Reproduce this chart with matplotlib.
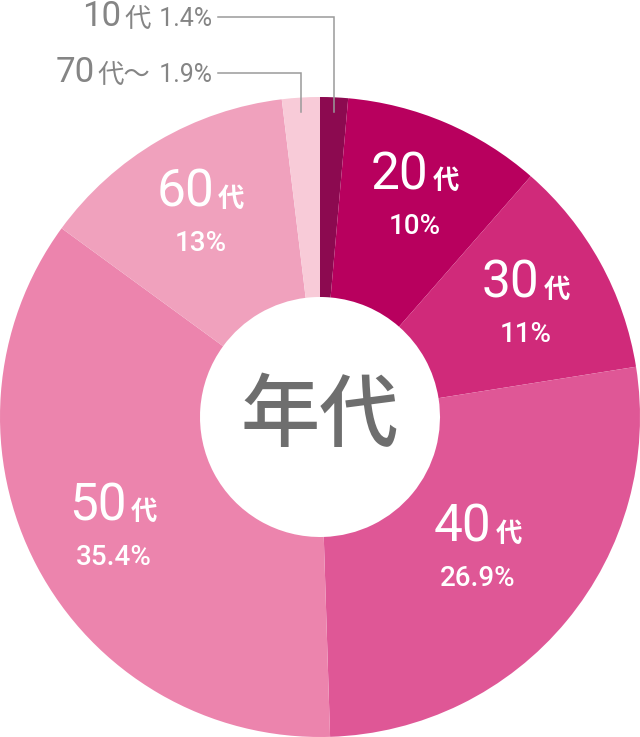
import numpy as np
import matplotlib
matplotlib.use("Agg")
import matplotlib.pyplot as plt
from matplotlib.offsetbox import TextArea, HPacker, VPacker, AnnotationBbox

# データ (時計回り, 上から)
ages = ["10", "20", "30", "40", "50", "60", "70"]
suffix = ["代", "代", "代", "代", "代", "代", "代～"]
shares = [1.4, 10, 11, 26.9, 35.4, 13, 1.9]
share_labels = ["1.4%", "10%", "11%", "26.9%", "35.4%", "13%", "1.9%"]
colors = ["#8c0a50", "#b8005e", "#d02a7a", "#df5796", "#ec84ad", "#f0a1bd", "#f8cbd8"]

FONT = ["Roboto", "Noto Sans CJK JP", "DejaVu Sans"]
JP = ["Noto Sans CJK JP", "DejaVu Sans"]

fig = plt.figure(figsize=(6.4, 7.37), dpi=100)
ax = fig.add_axes([0, 0, 1, 640 / 737])

wedges, _ = ax.pie(shares, colors=colors, startangle=90, counterclock=False,
                   radius=1, wedgeprops=dict(width=0.625, linewidth=0))
ax.set_xlim(-1, 1)
ax.set_ylim(-1, 1)
ax.set_aspect("equal")
ax.axis("off")

# 中央の文字
ax.text(0, 0, "年代", ha="center", va="center", fontsize=57, color="#6e6e6e",
        family=JP, fontweight="medium")

# 円の中のラベル (20代〜60代)
inner_r = {1: 0.755, 2: 0.735, 3: 0.64, 4: 0.73, 5: 0.74}
for i, r in inner_r.items():
    w = wedges[i]
    mid = np.deg2rad((w.theta1 + w.theta2) / 2)
    x, y = r * np.cos(mid), r * np.sin(mid)
    top = HPacker(children=[
        TextArea(ages[i], textprops=dict(color="white", fontsize=37, family=FONT)),
        TextArea(suffix[i], textprops=dict(color="white", fontsize=19, family=JP, fontweight="bold")),
    ], align="baseline", pad=0, sep=3)
    pct = TextArea(share_labels[i], textprops=dict(color="white", fontsize=20, family=FONT,
                                                   fontweight="medium"))
    box = VPacker(children=[top, pct], align="center", pad=0, sep=9)
    ax.add_artist(AnnotationBbox(box, (x, y), frameon=False, box_alignment=(0.5, 0.5),
                                 annotation_clip=False))

# 外側のラベル (10代, 70代～)
outer = {0: 1.25, 6: 1.075}
for i, ly in outer.items():
    w = wedges[i]
    mid = np.deg2rad((w.theta1 + w.theta2) / 2)
    mx = np.cos(mid)
    lab = HPacker(children=[
        TextArea(ages[i], textprops=dict(color="#858585", fontsize=25, family=FONT)),
        TextArea(suffix[i], textprops=dict(color="#858585", fontsize=19, family=JP)),
        TextArea(" " + share_labels[i], textprops=dict(color="#858585", fontsize=18, family=FONT)),
    ], align="baseline", pad=0, sep=2)
    ax.add_artist(AnnotationBbox(lab, (-0.336, ly), frameon=False, box_alignment=(1, 0.5),
                                 annotation_clip=False))
    ax.plot([-0.318, mx, mx], [ly, ly, 0.953], color="#9a9a9a", linewidth=1.1,
            clip_on=False, solid_joinstyle="miter")

fig.savefig("out.png", dpi=100, facecolor="white")
